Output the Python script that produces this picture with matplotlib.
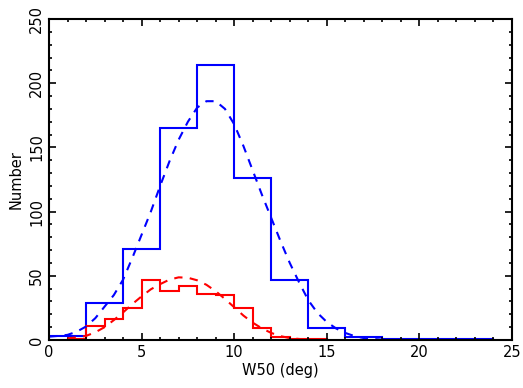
import numpy as np
import matplotlib.pyplot as plt
from matplotlib.ticker import MultipleLocator

# histogram of all pulsars (2 deg bins)
blue_edges = [0, 2, 4, 6, 8, 10, 12, 14, 16, 18, 20, 22, 24]
blue_counts = [3, 29, 71, 165, 214, 126, 47, 9, 2, 1, 1, 1]

# histogram of subset (1 deg bins)
red_edges = [1, 2, 3, 4, 5, 6, 7, 8, 9, 10, 11, 12, 13, 14, 15]
red_counts = [1, 11, 16, 25, 47, 38, 42, 36, 35, 25, 9, 2, 1, 1]

# dashed fit curves
blue_fit_x = [0, 0.5, 1, 1.5, 2, 2.5, 3, 3.5, 4, 4.5, 5, 5.5, 6, 6.5, 7, 7.5, 8, 8.5,
              9, 9.5, 10, 10.5, 11, 11.5, 12, 12.5, 13, 13.5, 14, 14.5, 15, 15.5,
              16, 16.5, 17, 17.5, 18]
blue_fit_y = [2.6, 3.2, 4, 6.5, 10.5, 17, 26, 35, 47, 64, 82, 100, 120, 139, 156, 170,
              181, 186, 186, 180, 168, 151, 132, 113, 95, 77, 60, 45, 31, 21, 14, 9,
              5.5, 3, 1.5, 0.8, 0.3]
red_fit_x = [1, 1.5, 2, 2.5, 3, 3.5, 4, 4.5, 5, 5.5, 6, 6.5, 7, 7.5, 8, 8.5, 9, 9.5,
             10, 10.5, 11, 11.5, 12, 12.5, 13, 13.5, 14]
red_fit_y = [1.3, 2, 3.2, 6, 10, 15.5, 21.5, 28, 34, 39.5, 43.5, 47, 48.8, 48.5, 46.5,
             43, 38, 32, 25.5, 19, 13.5, 9, 5.5, 3, 1.5, 0.8, 0.4]

fig = plt.figure(figsize=(5.23, 3.88), dpi=100)
ax = fig.add_axes([0.0937, 0.1237, 0.8853, 0.8273])

ax.stairs(blue_counts, blue_edges, color='blue', lw=1.5)
ax.stairs(red_counts, red_edges, color='red', lw=1.5)
ax.plot(blue_fit_x, blue_fit_y, color='blue', lw=1.5, dashes=(4, 3.5))
ax.plot(red_fit_x, red_fit_y, color='red', lw=1.5, dashes=(4, 3.5))

ax.set_xlim(0, 25)
ax.set_ylim(0, 250)
ax.xaxis.set_major_locator(MultipleLocator(5))
ax.xaxis.set_minor_locator(MultipleLocator(1))
ax.yaxis.set_major_locator(MultipleLocator(50))
ax.yaxis.set_minor_locator(MultipleLocator(10))
ax.tick_params(which='both', direction='in', top=True, right=True, width=1.2, labelsize=10.5)
ax.tick_params(which='major', length=5)
ax.tick_params(which='minor', length=2.5)
for lab in ax.get_yticklabels():
    lab.set_rotation(90)
    lab.set_va('center')
for s in ax.spines.values():
    s.set_linewidth(1.5)

ax.set_xlabel('W50 (deg)', fontsize=10.5, labelpad=2)
ax.set_ylabel('Number', fontsize=10.5, labelpad=4)

fig.savefig('out.png', dpi=100)
